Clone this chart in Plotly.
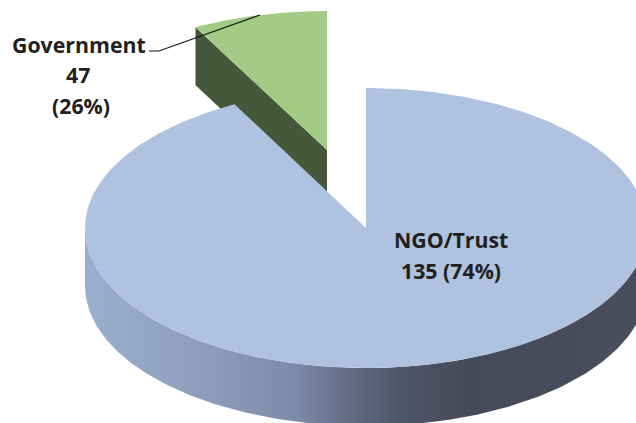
import numpy as np
import plotly.graph_objects as go

# Data
categories = ["NGO/Trust", "Government"]
values = [135, 47]
percent_labels = ["74%", "26%"]
# Share of the full turn each slice covers as drawn in the picture
drawn_share = [0.9225, 0.0775]

W, H = 636, 423
BLUE_TOP = "#afc3e0"
GREEN_TOP = "#a3cb86"
GREEN_SIDE = "#46583a"
TEXT = "#231f20"
SIDE_STOPS = [[0.0, "#9aaecd"], [0.2, "#8e9fbe"], [0.38, "#7b8aa7"], [0.48, "#62697f"],
              [0.56, "#50556a"], [0.68, "#464a58"], [0.95, "#4a4e5c"], [1.0, "#4a4e5c"]]

RX, RY = 281, 140
DEPTH = 58
ngo_c = (366, 228)
gov_c = (327, 150)
gov_ry = 139


def ell(c, ry, t):
    return c[0] + RX * np.sin(t), c[1] - ry * np.cos(t)


fig = go.Figure()
common = dict(mode="lines", line=dict(width=0), fill="toself", hoverinfo="skip", showlegend=False)

# Government slice (exploded): side wall, then top
end_ngo = 2 * np.pi * drawn_share[0]
gx0, gy0 = ell(gov_c, gov_ry, end_ngo)
fig.add_trace(go.Scatter(
    x=[gx0, gov_c[0], gov_c[0], gx0, gx0],
    y=[gy0, gov_c[1], gov_c[1] + DEPTH, gy0 + DEPTH, gy0],
    fillcolor=GREEN_SIDE, **common))
t = np.linspace(end_ngo, 2 * np.pi, 60)
x, y = ell(gov_c, gov_ry, t)
fig.add_trace(go.Scatter(x=np.r_[gov_c[0], x, gov_c[0]], y=np.r_[gov_c[1], y, gov_c[1]],
                         fillcolor=GREEN_TOP, name=categories[1], **common))

# NGO slice: outer wall with horizontal gradient, then top
t = np.linspace(np.pi / 2, 3 * np.pi / 2, 160)
x, y = ell(ngo_c, RY, t)
fig.add_trace(go.Scatter(
    x=np.r_[x, x[::-1], x[0]], y=np.r_[y, y[::-1] + DEPTH, y[0]],
    mode="lines", line=dict(width=0), fill="toself", hoverinfo="skip", showlegend=False,
    fillgradient=dict(type="horizontal", colorscale=SIDE_STOPS)))
t = np.linspace(0, end_ngo, 300)
x, y = ell(ngo_c, RY, t)
fig.add_trace(go.Scatter(x=np.r_[ngo_c[0], x, ngo_c[0]], y=np.r_[ngo_c[1], y, ngo_c[1]],
                         fillcolor=BLUE_TOP, name=categories[0], **common))

# Labels
font = dict(family="Open Sans", size=21.3, color=TEXT)
labels = [
    (78.5, 44, categories[1]),
    (78, 74, str(values[1])),
    (81, 105, f"({percent_labels[1]})"),
    (451, 239, categories[0]),
    (451, 270, f"{values[0]} ({percent_labels[0]})"),
]
for lx, ly, txt in labels:
    fig.add_annotation(x=lx, y=ly, text=f"<b>{txt}</b>", showarrow=False, font=font,
                       xref="x", yref="y", xanchor="center", yanchor="middle")

# Leader line
fig.add_shape(type="path", path="M149,51 L159,51 L260,15", xref="x", yref="y",
              line=dict(color="#111111", width=1.2))

fig.update_layout(
    width=W, height=H, autosize=False,
    margin=dict(l=0, r=0, t=0, b=0),
    paper_bgcolor="white", plot_bgcolor="white",
    xaxis=dict(range=[0, W], visible=False, fixedrange=True),
    yaxis=dict(range=[H, 0], visible=False, fixedrange=True),
    showlegend=False,
)
fig.write_html("out.html", config={"displayModeBar": False},
               post_script="document.body.style.margin='0';document.documentElement.style.overflow='hidden';")
